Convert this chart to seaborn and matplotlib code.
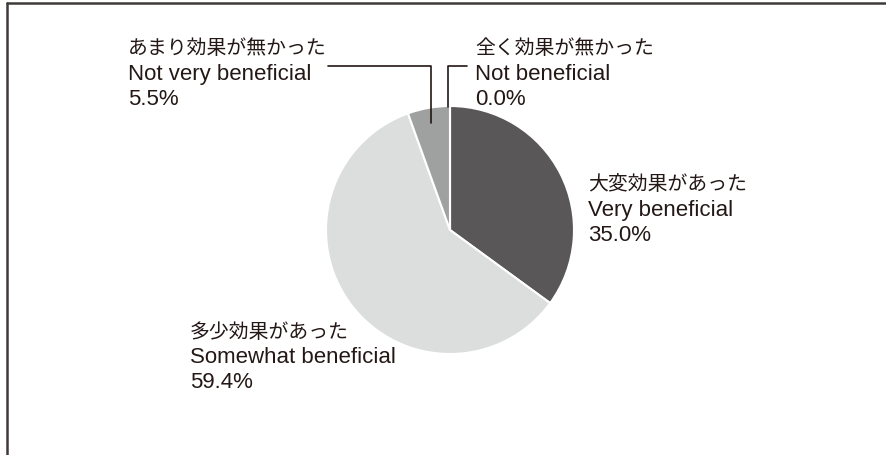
import numpy as np
import matplotlib
matplotlib.use("Agg")
import matplotlib.pyplot as plt
import seaborn as sns
from matplotlib.lines import Line2D

# ---- data ----
labels_ja = ["大変効果があった", "多少効果があった", "あまり効果が無かった", "全く効果が無かった"]
labels_en = ["Very beneficial", "Somewhat beneficial", "Not very beneficial", "Not beneficial"]
values = [35.0, 59.4, 5.5, 0.0]
colors = ["#595757", "#dcdddd", "#9fa0a0", "#c9caca"]

sns.set_theme(style="white")
plt.rcParams['font.family'] = ['Liberation Sans', 'Noto Sans CJK JP', 'DejaVu Sans']

W, H = 887, 455
fig = plt.figure(figsize=(W / 100, H / 100), dpi=100)
ax = fig.add_axes([0, 0, 1, 1])

cx, cy, R = 450, H - 230, 124
wedges, _ = ax.pie(values, colors=colors, startangle=90, counterclock=False,
                   center=(cx, cy), radius=R, normalize=True,
                   wedgeprops=dict(edgecolor="white", linewidth=1.5))
ax.set_xlim(0, W)
ax.set_ylim(0, H)
ax.set_aspect("auto")
ax.axis("off")

def py(y):
    return H - y

# label layout: (x_left, first line center y in px)
layout = [(588, 185), (190, 332), (128, 49), (475, 49)]
for i, (x0, y0) in enumerate(layout):
    ax.text(x0, py(y0), labels_ja[i], fontsize=14.3, family=['Noto Sans CJK JP'],
            va="center", ha="left", color="#231815")
    ax.text(x0, py(y0 + 25.5), labels_en[i], fontsize=16, family=['Liberation Sans'],
            va="center", ha="left", color="#231815")
    ax.text(x0, py(y0 + 50.5), f"{values[i]:.1f}%", fontsize=16, family=['Liberation Sans'],
            va="center", ha="left", color="#231815")

# leader lines for the two small slices
line_y = py(66)
w = wedges[2]
mid = np.deg2rad((w.theta1 + w.theta2) / 2)
sx = cx + R * 0.88 * np.cos(mid)
sy = cy + R * 0.88 * np.sin(mid)
ax.plot([sx, sx, 328], [sy, line_y, line_y], color="#231815", lw=1.2)

w = wedges[3]
ang = np.deg2rad(w.theta1)
zx = cx + R * np.cos(ang) - 2
zy = cy + R * np.sin(ang) - 1
ax.plot([zx, zx, 467], [zy, line_y, line_y], color="#231815", lw=1.2)

# frame lines (top and left)
fig.add_artist(Line2D([7 / W, 1], [1 - 3 / H, 1 - 3 / H], transform=fig.transFigure,
                      color="#3e3a39", lw=1.8))
fig.add_artist(Line2D([7 / W, 7 / W], [0, 1 - 3 / H], transform=fig.transFigure,
                      color="#3e3a39", lw=1.8))

fig.savefig("out.png", dpi=100, facecolor="white")
